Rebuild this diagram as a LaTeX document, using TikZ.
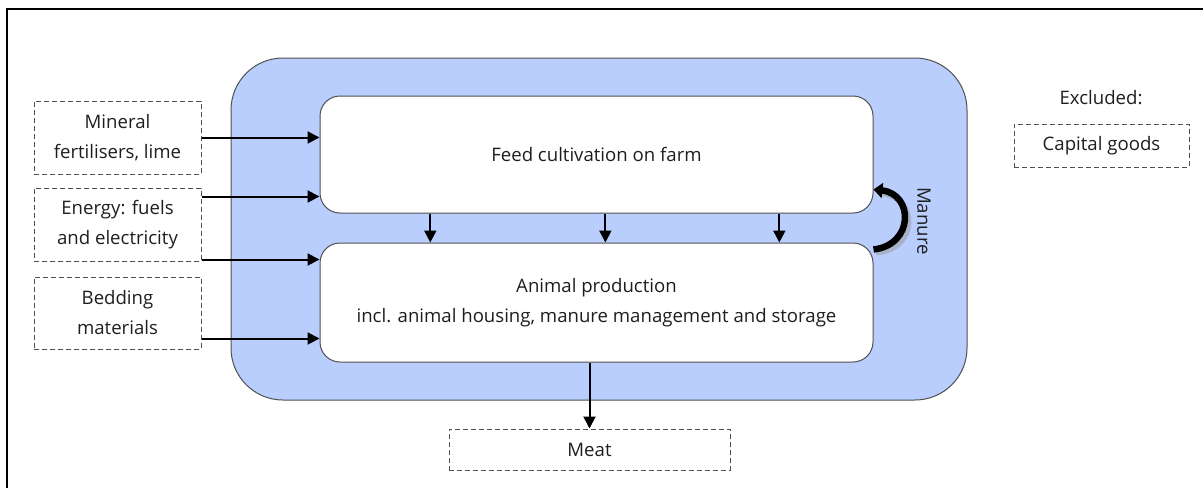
\documentclass[tikz,border=0pt]{standalone}
\usepackage{fontspec}
\setmainfont{Open Sans}
\usetikzlibrary{arrows.meta,calc}
\definecolor{bluefill}{RGB}{185,206,253}
\definecolor{edgegray}{RGB}{80,80,80}
\definecolor{txt}{RGB}{30,30,30}
\tikzset{
  txtfont/.style={font=\fontsize{18.6}{30}\selectfont, text=txt},
  dbox/.style={draw=edgegray, dashed, dash pattern=on 5pt off 3pt, line width=1pt, align=center, txtfont, inner sep=0pt},
  wbox/.style={draw=edgegray, fill=white, rounded corners=20pt, line width=1pt, align=center, txtfont, inner sep=0pt},
  arr/.style={-{Triangle[length=12pt,width=12pt]}, line width=2pt, black},
}
\begin{document}
\begin{tikzpicture}[x=1pt,y=-1pt]
\useasboundingbox (0,0) rectangle (1203,488);
\draw[line width=2.8pt] (7,488) -- (7,9) -- (1203,9);

\node[draw=edgegray, fill=bluefill, rounded corners=52pt, line width=1pt, minimum width=736pt, minimum height=342pt] (sys) at (599,229) {};

\node[wbox, minimum width=553pt, minimum height=117pt] (feed) at (596.5,154.5) {Feed cultivation on farm};
\node[wbox, minimum width=553pt, minimum height=119pt] (anim) at (596.5,302.5) {Animal production\\incl. animal housing, manure management and storage};

\node[dbox, minimum width=167pt, minimum height=73pt] (min) at (117.5,137.5) {Mineral\\fertilisers, lime};
\node[dbox, minimum width=167pt, minimum height=73pt] (en) at (117.5,224.5) {Energy: fuels\\and electricity};
\node[dbox, minimum width=167pt, minimum height=72pt] (bed) at (117.5,313) {Bedding\\materials};
\node[dbox, minimum width=281pt, minimum height=41pt] (meat) at (589.5,449.5) {Meat};
\node[dbox, minimum width=175pt, minimum height=43pt] (cap) at (1101.5,145.5) {Capital goods};
\node[txtfont] (exc) at (1101,98) {Excluded:};
\node[txtfont, rotate=-90] (mt) at (924,221) {Manure};

\draw[arr] (min.east) -- (min.east -| feed.west);
\draw[arr] ([yshift=-9pt]en.north east) coordinate (e1) -- (e1 -| feed.west);
\draw[arr] ([yshift=2pt]en.south east) coordinate (e2) -- (e2 -| anim.west);
\draw[arr] ([yshift=11pt]bed.south east) coordinate (b1) -- (b1 -| anim.west);

\draw[arr] ($(feed.south west)!0.2!(feed.south east)$) coordinate (d1) -- (d1 |- anim.north);
\draw[arr] ($(feed.south west)!0.516!(feed.south east)$) coordinate (d2) -- (d2 |- anim.north);
\draw[arr] ($(feed.south west)!0.83!(feed.south east)$) coordinate (d3) -- (d3 |- anim.north);

\draw[arr] (meat.north |- anim.south) -- (meat.north);

\draw[line width=6pt, black!40, opacity=0.5] ([xshift=3pt,yshift=-10pt]anim.north east) .. controls (918,249) and (918,198) .. (882,193);
\draw[line width=6.5pt, black, -{Triangle[length=9pt,width=15pt]}] ([yshift=-7pt]anim.north east) coordinate (m1) .. controls (914,245) and (914,194) .. ([yshift=24pt]feed.south east);
\end{tikzpicture}
\end{document}
